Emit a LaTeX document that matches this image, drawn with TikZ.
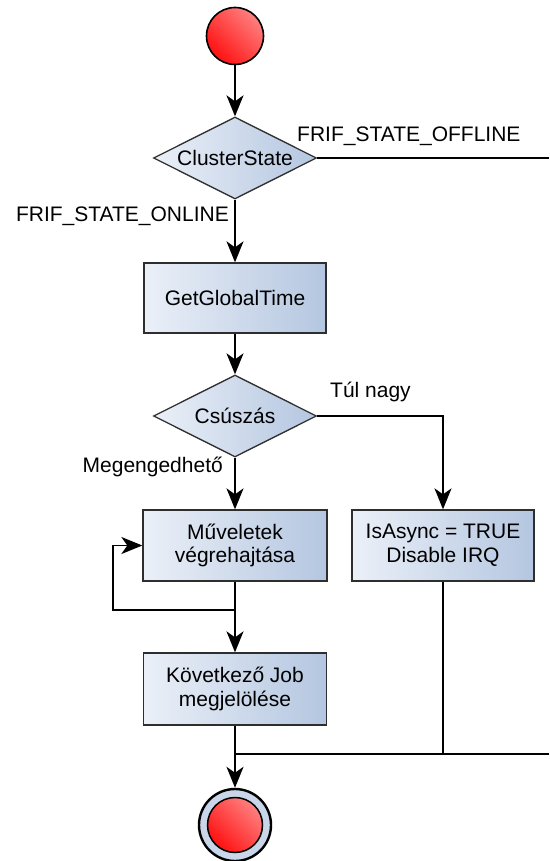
\documentclass[tikz,border=0pt]{standalone}
\usepackage{fontspec}
\setmainfont{Liberation Sans}
\usetikzlibrary{shapes.geometric,arrows.meta}
\definecolor{boxL}{HTML}{EBF0F8}
\definecolor{boxR}{HTML}{B4C6E0}
\definecolor{boxline}{HTML}{2E2E2E}
\definecolor{redL}{HTML}{FF8080}
\definecolor{redR}{HTML}{FF1010}
\definecolor{ringfill}{HTML}{C9D5E8}
\begin{document}
\begin{tikzpicture}[x=1pt,y=-1pt,
  every node/.style={font=\fontsize{21}{23.5}\selectfont},
  actbox/.style={draw=boxline, line width=1.3pt, left color=boxL, right color=boxR,
    minimum width=183pt, minimum height=71pt, align=center, inner sep=0pt},
  decision/.style={diamond, aspect=2, draw=boxline, line width=1.3pt,
    left color=boxL, right color=boxR, minimum width=163pt, minimum height=82pt, inner sep=0pt},
  redball/.style={circle, draw=black, left color=redL, right color=redR, shading angle=-45},
  lbl/.style={inner sep=0pt},
  flow/.style={line width=1.8pt},
  arr/.style={flow, -{Stealth[length=21pt,width=17pt,inset=6pt]}},
]
\useasboundingbox (0,0) rectangle (549,861);

% nodes
\node[redball, line width=1.6pt, minimum size=57pt] (start) at (235,36) {};
\node[decision] (cs) at (235,158) {ClusterState};
\node[actbox, minimum width=182pt, minimum height=70pt] (ggt) at (235,298) {GetGlobalTime};
\node[decision] (csz) at (235,416) {Csúszás};
\node[actbox, minimum width=184pt] (muv) at (235,545.5) {Műveletek\\végrehajtása};
\node[actbox, minimum width=182pt] (isa) at (443,545.5) {IsAsync = TRUE\\Disable IRQ};
\node[actbox, minimum height=72pt] (kov) at (235,689) {Következő Job\\megjelölése};
\node[circle, draw=black, line width=2.4pt, fill=ringfill, minimum size=72pt] (endo) at (235,825) {};
\node[redball, line width=1.5pt, minimum size=55pt] (endi) at (endo.center) {};

% labels
\node[lbl, anchor=west] (loff) at (297,136) {FRIF\_STATE\_OFFLINE};
\node[lbl, anchor=east] (lon) at (229,216) {FRIF\_STATE\_ONLINE};
\node[lbl, anchor=west] (ltul) at (330,392) {Túl nagy};
\node[lbl, anchor=east] (lmeg) at (223,467) {Megengedhető};

% helper points
\coordinate (offR) at (549,158);
\coordinate (loopb) at (235,610);
\coordinate (loopl) at (113,610);
\coordinate (mrg) at (235,754);
\coordinate (mrgR) at (549,754);

% connectors
\draw[arr] (start) -- (cs);
\draw[flow] (cs.east) -- (offR);
\draw[arr] (cs) -- (ggt);
\draw[arr] (ggt) -- (csz);
\draw[arr] (csz.east) -| (isa.north);
\draw[arr] (csz) -- (muv);
\draw[arr] (muv.south) -- (kov.north);
\draw[arr] (loopb) -- (loopl) |- (muv.west);
\draw[flow] (isa.south) |- (mrg);
\draw[flow] (mrg) -- (mrgR);
\draw[arr] (kov.south) -- (endo.north);
\end{tikzpicture}
\end{document}
